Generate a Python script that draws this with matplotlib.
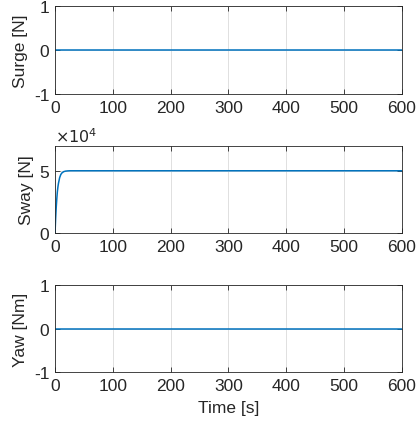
import matplotlib.pyplot as plt
from matplotlib.ticker import FuncFormatter

plt.rcParams['font.family'] = ['Liberation Sans', 'DejaVu Sans']
plt.rcParams['font.size'] = 12.5
plt.rcParams['axes.unicode_minus'] = False

# time samples and forces
time = [0, 600]
surge = [0, 0]
yaw = [0, 0]

sway_time = [0, 1, 2, 3, 4, 5, 6, 8, 10, 12, 15, 18, 22, 26, 30, 40, 600]
sway = [0, 1.1e4, 2.0e4, 2.7e4, 3.3e4, 3.7e4, 4.0e4, 4.45e4, 4.7e4,
        4.83e4, 4.93e4, 4.97e4, 4.99e4, 5.0e4, 5.0e4, 5.0e4, 5.0e4]

xticks = [0, 100, 200, 300, 400, 500, 600]
line_color = '#0072BD'

fig = plt.figure(figsize=(4.2, 4.27), dpi=100)
left, width = 0.131, 0.826
rects = [(0.777, 0.207), (0.452, 0.204), (0.126, 0.204)]
axes = [fig.add_axes([left, b, width, h]) for b, h in rects]

axes[0].plot(time, surge, color=line_color, lw=1.1)
axes[0].set_ylim(-1, 1)
axes[0].set_yticks([-1, 0, 1])
axes[0].set_ylabel('Surge [N]', labelpad=4)

axes[1].plot(sway_time, sway, color=line_color, lw=1.1)
axes[1].set_ylim(0, 7e4)
axes[1].set_yticks([0, 5e4])
axes[1].yaxis.set_major_formatter(FuncFormatter(lambda v, p: '%g' % (v / 1e4)))
axes[1].text(0.0, 1.01, r'$\times10^4$', transform=axes[1].transAxes,
             ha='left', va='bottom', fontsize=11.5, color='#262626')
axes[1].set_ylabel('Sway [N]', labelpad=4)

axes[2].plot(time, yaw, color=line_color, lw=1.1)
axes[2].set_ylim(-1, 1)
axes[2].set_yticks([-1, 0, 1])
axes[2].set_ylabel('Yaw [Nm]', labelpad=4)
axes[2].set_xlabel('Time [s]', labelpad=5)

for ax in axes:
    ax.set_xlim(0, 600)
    ax.set_xticks(xticks)
    ax.grid(True, color='#e0e0e0', lw=0.7)
    ax.set_axisbelow(True)
    ax.tick_params(direction='in', top=True, right=True, length=3.5,
                   colors='#262626', labelcolor='#262626', width=0.6, pad=4)
    for s in ax.spines.values():
        s.set_color('#262626')
        s.set_linewidth(0.6)
    ax.yaxis.label.set_color('#262626')
    ax.xaxis.label.set_color('#262626')

fig.savefig('out.png', dpi=100)
